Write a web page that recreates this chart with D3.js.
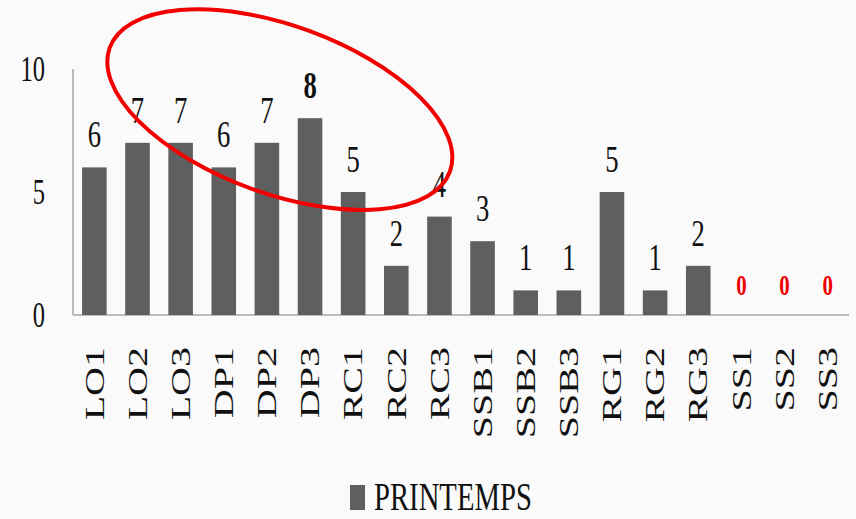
<!DOCTYPE html>
<html>
<head>
<meta charset="utf-8">
<script src="https://cdn.jsdelivr.net/npm/d3@7"></script>
<style>
  html, body { margin: 0; padding: 0; background: #fafafa; }
  text { font-family: "Liberation Serif", "DejaVu Serif", serif; }
</style>
</head>
<body>
<div id="wrapper"></div>
<script>
// data
const categories = ["LO1", "LO2", "LO3", "DP1", "DP2", "DP3", "RC1", "RC2", "RC3",
    "SSB1", "SSB2", "SSB3", "RG1", "RG2", "RG3", "SS1", "SS2", "SS3"]
const values = [6, 7, 7, 6, 7, 8, 5, 2, 4, 3, 1, 1, 5, 1, 2, 0, 0, 0]
const yTicks = [0, 5, 10]
const seriesName = "PRINTEMPS"
// the ellipse in the picture sits around this bar
const circledCenter = "DP2"

function drawChart() {
    const width = 856
    const height = 519
    // text in the picture is squeezed horizontally
    const sx = 0.7

    const dataset = categories.map((c, i) => ({ cat: c, value: values[i] }))

    const svg = d3.select("#wrapper")
        .append("svg")
        .attr("width", width)
        .attr("height", height)

    svg.append("rect")
        .attr("width", width)
        .attr("height", height)
        .attr("fill", "#fafafa")

    const x = d3.scaleBand()
        .domain(categories)
        .range([73, 849])
        .paddingInner(0.43)
        .paddingOuter(0.21)

    const y = d3.scaleLinear()
        .domain([0, 10])
        .range([315, 69])

    // axes
    svg.append("line")
        .attr("x1", 73).attr("x2", 73)
        .attr("y1", y(10)).attr("y2", y(0))
        .attr("stroke", "#a6a6a6")
        .attr("stroke-width", 1.5)
    svg.append("line")
        .attr("x1", 73).attr("x2", 849)
        .attr("y1", y(0)).attr("y2", y(0))
        .attr("stroke", "#a6a6a6")
        .attr("stroke-width", 1.5)

    svg.append("g")
        .selectAll("text")
        .data(yTicks)
        .join("text")
        .attr("transform", d => `translate(45, ${y(d) + 12}) scale(${sx}, 1)`)
        .attr("text-anchor", "end")
        .attr("font-size", 35)
        .attr("fill", "#111")
        .text(d => d)

    // bars
    svg.append("g")
        .selectAll("rect")
        .data(dataset.filter(d => d.value > 0))
        .join("rect")
        .attr("x", d => x(d.cat))
        .attr("y", d => y(d.value))
        .attr("width", x.bandwidth())
        .attr("height", d => y(0) - y(d.value))
        .attr("fill", "#5f5f5f")

    // value labels
    const maxVal = d3.max(values)
    svg.append("g")
        .selectAll("text")
        .data(dataset)
        .join("text")
        .attr("transform", d => `translate(${x(d.cat) + x.bandwidth() / 2}, ${y(d.value) - 20}) scale(0.72, 1)`)
        .attr("text-anchor", "middle")
        .attr("font-size", d => d.value === 0 ? 29 : 37)
        .attr("font-weight", d => d.value === 0 || d.value === maxVal ? "bold" : "normal")
        .attr("fill", d => d.value === 0 ? "#ee0000" : "#111")
        .text(d => d.value)

    // category labels, rotated
    svg.append("g")
        .selectAll("text")
        .data(categories)
        .join("text")
        .attr("transform", d => `translate(${x(d) + x.bandwidth() / 2}, 347) scale(${sx}, 1) rotate(-90)`)
        .attr("text-anchor", "end")
        .attr("dy", "0.33em")
        .attr("font-size", 40)
        .attr("fill", "#111")
        .text(d => d)

    // red ellipse around the high group
    const cx = x(circledCenter) + x.bandwidth() / 2 + x.step() * 0.3
    const cy = y(8.35)
    svg.append("ellipse")
        .attr("transform", `translate(${cx}, ${cy}) rotate(20)`)
        .attr("rx", 181)
        .attr("ry", 84)
        .attr("fill", "none")
        .attr("stroke", "#f20000")
        .attr("stroke-width", 4)

    // legend
    const legend = svg.append("g")
        .attr("transform", "translate(350, 485)")
    legend.append("rect")
        .attr("width", 15)
        .attr("height", 25)
        .attr("fill", "#5f5f5f")
    legend.append("text")
        .attr("transform", `translate(24, 25) scale(0.7, 1)`)
        .attr("font-size", 41)
        .attr("fill", "#111")
        .text(seriesName)
}

drawChart()
</script>
</body>
</html>
